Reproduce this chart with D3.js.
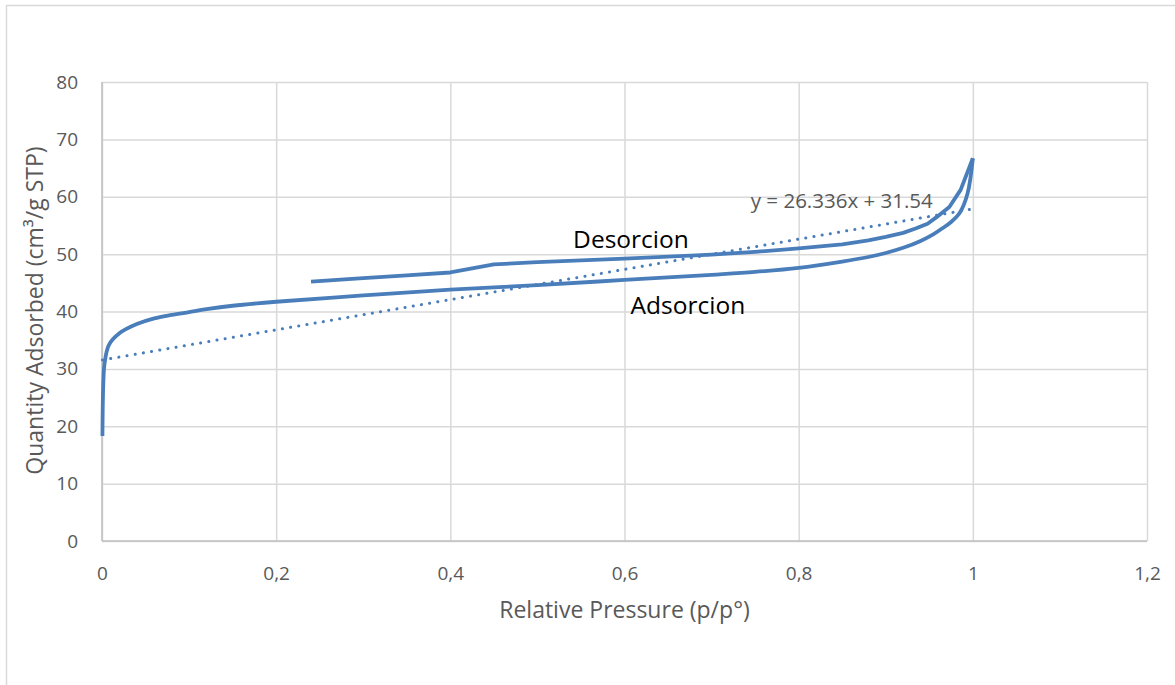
<!DOCTYPE html>
<html>
<head>
<meta charset="utf-8">
<script src="https://cdn.jsdelivr.net/npm/d3@7"></script>
<style>
  body { margin: 0; background: #fff; }
  svg { display: block; font-family: "Open Sans", "Noto Sans", sans-serif; }
</style>
</head>
<body>
<div id="chart"></div>
<script>
// relative pressure (p/p°) and quantity adsorbed
const adsP = [0.0005, 0.0015, 0.003, 0.008, 0.02, 0.04, 0.06, 0.08, 0.1, 0.12, 0.15, 0.2, 0.3, 0.4, 0.5, 0.6, 0.7, 0.75, 0.8, 0.85, 0.88, 0.9, 0.92, 0.94, 0.955, 0.966, 0.975, 0.985, 0.994, 1.0];
const adsQ = [18.3, 27.5, 31.0, 34.2, 36.2, 37.8, 38.8, 39.4, 39.9, 40.4, 41.0, 41.7, 42.8, 43.8, 44.6, 45.5, 46.4, 46.9, 47.6, 48.7, 49.5, 50.2, 51.1, 52.3, 53.5, 54.6, 55.6, 57.2, 60.6, 66.7];

const desP = [1.0, 0.986, 0.973, 0.958, 0.948, 0.935, 0.92, 0.9, 0.88, 0.85, 0.8, 0.75, 0.7, 0.6, 0.5, 0.45, 0.4, 0.35, 0.3, 0.24];
const desQ = [66.7, 61.2, 58.2, 56.4, 55.3, 54.5, 53.7, 53.0, 52.4, 51.7, 51.0, 50.4, 49.9, 49.2, 48.6, 48.2, 46.8, 46.3, 45.8, 45.2];

// linear trendline shown on the chart
const trendSlope = 26.336;
const trendIntercept = 31.54;
const trendLabel = "y = 26.336x + 31.54";

const xTicks = [0, 0.2, 0.4, 0.6, 0.8, 1, 1.2];
const yTicks = [0, 10, 20, 30, 40, 50, 60, 70, 80];

const W = 1175, H = 685;
const margin = { top: 82, right: 28, bottom: 144, left: 102 };
const width = W - margin.left - margin.right;
const height = H - margin.top - margin.bottom;

const blue = "#4a7ebb";
const grey = "#595959";

const svg = d3.select("#chart").append("svg")
    .attr("width", W)
    .attr("height", H);

// chart border
svg.append("rect")
    .attr("x", 6.5).attr("y", 5.5)
    .attr("width", W + 20).attr("height", H + 20)
    .attr("fill", "none")
    .attr("stroke", "#d9d9d9")
    .attr("stroke-width", 1.5);

const g = svg.append("g")
    .attr("transform", `translate(${margin.left},${margin.top})`);

const x = d3.scaleLinear().domain([0, 1.2]).range([0, width]);
const y = d3.scaleLinear().domain([0, 80]).range([height, 0]);

const fmt = d => String(d).replace(".", ",");

// gridlines
g.append("g")
    .call(d3.axisLeft(y).tickValues(yTicks).tickSize(-width).tickFormat(""))
    .call(a => a.select(".domain").remove())
    .call(a => a.selectAll("line").attr("stroke", "#d9d9d9").attr("stroke-width", 1.5));

g.append("g")
    .call(d3.axisBottom(x).tickValues(xTicks).tickSize(height).tickFormat(""))
    .call(a => a.select(".domain").remove())
    .call(a => a.selectAll("line").attr("stroke", "#d9d9d9").attr("stroke-width", 1.5));

// axis tick labels
const yAxis = g.append("g")
    .call(d3.axisLeft(y).tickValues(yTicks).tickSize(0).tickPadding(24).tickFormat(fmt));
yAxis.select(".domain").remove();
yAxis.selectAll("text").attr("fill", grey).attr("font-size", 19).attr("font-family", "Open Sans");

const xAxis = g.append("g")
    .attr("transform", `translate(0,${height})`)
    .call(d3.axisBottom(x).tickValues(xTicks).tickSize(0).tickPadding(26).tickFormat(fmt));
xAxis.select(".domain").remove();
xAxis.selectAll("text").attr("fill", grey).attr("font-size", 19).attr("font-family", "Open Sans");

// axis frame lines (left and bottom)
g.append("line")
    .attr("x1", 0).attr("x2", width).attr("y1", height).attr("y2", height)
    .attr("stroke", "#bfbfbf").attr("stroke-width", 1.5);
g.append("line")
    .attr("x1", 0).attr("x2", 0).attr("y1", 0).attr("y2", height)
    .attr("stroke", "#bfbfbf").attr("stroke-width", 1.5);

// axis titles
g.append("text")
    .attr("x", x(0.6))
    .attr("y", height + 77)
    .attr("text-anchor", "middle")
    .attr("fill", grey)
    .attr("font-size", 23)
    .text("Relative Pressure (p/p°)");

g.append("text")
    .attr("transform", "rotate(-90)")
    .attr("x", -(height / 2) + 1)
    .attr("y", -margin.left + 43)
    .attr("text-anchor", "middle")
    .attr("fill", grey)
    .attr("font-size", 23)
    .text("Quantity Adsorbed (cm³/g STP)");

// curves
const smooth = d3.line()
    .x(d => x(d[0]))
    .y(d => y(d[1]))
    .curve(d3.curveCatmullRom.alpha(0.5));

const straight = d3.line()
    .x(d => x(d[0]))
    .y(d => y(d[1]));

const adsData = adsP.map((p, i) => [p, adsQ[i]]);
const desData = desP.map((p, i) => [p, desQ[i]]);

// trendline across the adsorption range
const trendData = d3.extent(adsP).map(p => [p, trendSlope * p + trendIntercept]);
g.append("path")
    .datum(trendData)
    .attr("d", straight)
    .attr("fill", "none")
    .attr("stroke", blue)
    .attr("stroke-width", 3)
    .attr("stroke-linecap", "round")
    .attr("stroke-dasharray", "0.1 8.2");

g.append("path")
    .datum(adsData)
    .attr("d", smooth)
    .attr("fill", "none")
    .attr("stroke", blue)
    .attr("stroke-width", 3.8)
    .attr("stroke-linejoin", "round");

g.append("path")
    .datum(desData)
    .attr("d", straight)
    .attr("fill", "none")
    .attr("stroke", blue)
    .attr("stroke-width", 3.8)
    .attr("stroke-linejoin", "round");

// labels
g.append("text")
    .attr("x", x(0.745))
    .attr("y", y(58))
    .attr("fill", grey)
    .attr("font-size", 20.5)
    .text(trendLabel);

g.append("text")
    .attr("x", x(0.541))
    .attr("y", y(51.05))
    .attr("fill", "#000")
    .attr("font-size", 24.5)
    .text("Desorcion");

g.append("text")
    .attr("x", x(0.607))
    .attr("y", y(39.55))
    .attr("fill", "#000")
    .attr("font-size", 24.5)
    .text("Adsorcion");
</script>
</body>
</html>
